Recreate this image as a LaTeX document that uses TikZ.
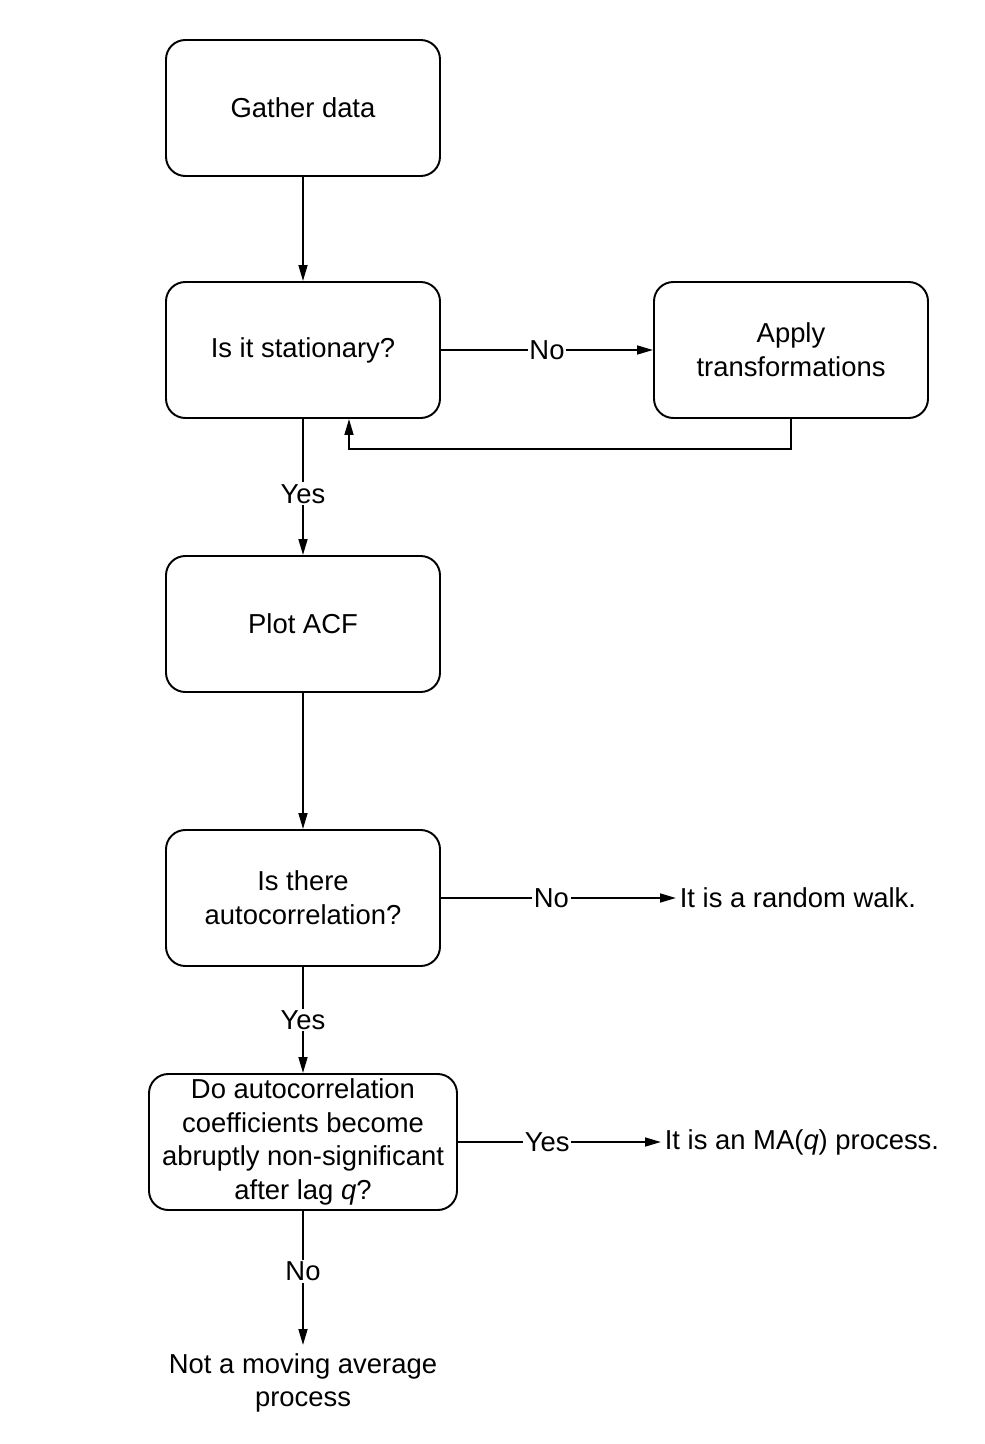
\documentclass[tikz,border=0pt]{standalone}
\usepackage{fontspec}
\setmainfont{Liberation Sans}
\usetikzlibrary{arrows.meta}

\tikzset{
  stepbox/.style={draw,line width=1.1pt,rounded corners=11pt,align=center,
    minimum width=54.8mm,minimum height=27.2mm,inner sep=2pt},
  flow/.style={line width=1.1pt,-{Triangle[length=9pt,width=5pt]}},
  answer/.style={fill=white,inner sep=1pt},
  outcome/.style={align=center,inner sep=2pt}
}

\begin{document}
\begin{tikzpicture}[x=0.2mm,y=-0.2mm,font=\fontsize{15.6}{19.2}\selectfont]
  \useasboundingbox (0,0) rectangle (984,1444);

  \node[stepbox] (gather)   at (303,108)  {Gather data};
  \node[stepbox] (station)  at (303,350)  {Is it stationary?};
  \node[stepbox] (transf)   at (791,350)  {Apply\\transformations};
  \node[stepbox] (plotacf)  at (303,624)  {Plot ACF};
  \node[stepbox] (autocorr) at (303,898)  {Is there\\autocorrelation?};
  \node[stepbox,minimum width=61.6mm] (abrupt) at (303,1142)
    {Do autocorrelation\\coefficients become\\abruptly non-significant\\after lag \textit{q}?};

  \node[outcome,anchor=west] (rwalk) at (676,898) {It is a random walk.};
  \node[outcome,anchor=west] (maproc) at (661,1142) {It is an MA(\textit{q}) process.};
  \node[outcome,anchor=north,inner ysep=4.5pt] (notma) at (303,1345) {Not a moving average\\process};

  \draw[flow] (gather) -- (station);
  \draw[flow] (station) -- node[answer] {No} (transf);
  \draw[flow] (transf.south) -- ++(0,30) -| ([xshift=9.2mm]station.south);
  \draw[flow] (station) -- node[answer,pos=.55] {Yes} (plotacf);
  \draw[flow] (plotacf) -- (autocorr);
  \draw[flow] (autocorr) -- node[answer,pos=.47] {No} (rwalk);
  \draw[flow] (autocorr) -- node[answer] {Yes} (abrupt);
  \draw[flow] (abrupt) -- node[answer,pos=.44] {Yes} (maproc);
  \draw[flow] (abrupt) -- node[answer,pos=.45] {No} (notma);
\end{tikzpicture}
\end{document}
